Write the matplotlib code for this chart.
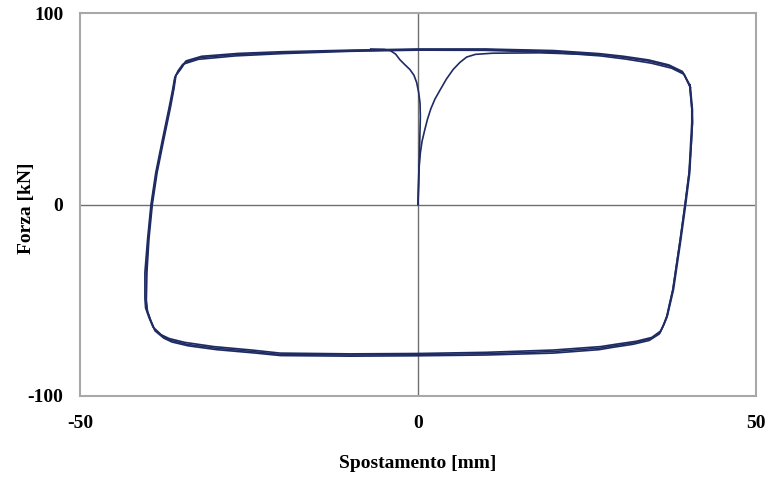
import matplotlib.pyplot as plt

# initial loading branch (from origin to top line)
init_x = [0.0, 0.05, 0.1, 0.2, 0.35, 0.6, 1.0, 1.4, 1.9, 2.5, 3.3, 4.2, 5.2, 6.2, 7.2, 8.5, 11.0, 18.0, 26.0]
init_y = [0.0, 8.0, 15.0, 21.0, 27.0, 33.0, 39.0, 44.5, 50.0, 55.0, 60.0, 65.5, 70.5, 74.2, 77.0, 78.4, 79.0, 79.2, 78.3]

# branch from top line back down to origin
back_x = [-7.0, -5.0, -4.1, -3.3, -2.7, -2.0, -1.2, -0.6, -0.2, 0.1, 0.3, 0.35, 0.3, 0.2, 0.1, 0.0]
back_y = [81.2, 81.0, 80.4, 78.5, 75.7, 73.2, 70.5, 67.5, 63.7, 58.5, 53.0, 46.0, 39.0, 25.0, 10.0, 0.0]

# cycle 1
c1_x = [40.2, 40.5, 40.5, 40.3, 40.1, 39.5, 38.8, 38.3, 37.7, 37.2, 36.8, 36.3, 35.8, 34.3, 32.0,
        29.0, 26.9, 20.0, 10.0, 0.0, -10.0, -20.4, -24.4, -30.0, -34.2, -36.5, -37.7, -39.0,
        -39.6, -40.1, -40.2, -40.2, -39.9, -39.4, -38.7, -37.7, -36.7, -36.2, -35.9, -35.2,
        -34.5, -32.2, -26.8, -20.0, -10.0, 0.0, 10.0, 20.0, 26.9, 30.5, 34.3, 37.3, 39.2, 40.2]
c1_y = [61.8, 50.0, 42.8, 30.0, 16.6, 0.0, -18.0, -30.0, -44.4, -52.0, -58.3, -63.0, -66.9, -70.2, -72.2,
        -73.8, -75.0, -76.8, -77.9, -78.4, -78.6, -78.3, -76.8, -75.0, -73.0, -71.0, -69.0, -65.0,
        -60.0, -55.0, -49.6, -35.5, -18.0, 0.0, 16.5, 34.0, 51.0, 60.0, 67.0, 70.5,
        74.2, 76.7, 78.3, 79.3, 80.3, 80.9, 80.9, 80.0, 78.3, 76.8, 74.8, 72.2, 68.8, 61.8]

# cycle 2
c2_x = [40.3, 40.6, 40.6, 40.4, 40.2, 39.6, 38.9, 38.4, 37.8, 37.3, 36.9, 36.4, 35.9, 34.6, 32.3,
        29.2, 27.0, 20.0, 10.0, 0.0, -10.0, -20.4, -24.6, -30.2, -34.5, -36.8, -38.0, -39.2,
        -39.8, -40.3, -40.4, -40.4, -40.0, -39.5, -38.8, -37.8, -36.8, -36.3, -36.0, -35.5,
        -34.8, -32.5, -27.0, -20.0, -10.0, 0.0, 10.0, 20.0, 27.0, 30.8, 34.5, 37.5, 39.4, 40.3]
c2_y = [61.0, 49.5, 42.5, 30.0, 16.6, 0.0, -18.0, -30.0, -44.4, -52.0, -58.0, -62.5, -66.0, -69.4, -71.4,
        -73.0, -74.2, -76.0, -77.2, -77.8, -78.0, -77.6, -76.0, -74.2, -72.0, -70.0, -68.0, -64.0,
        -59.0, -54.0, -49.0, -35.5, -18.0, 0.0, 16.5, 34.0, 51.0, 60.0, 66.0, 69.8,
        73.2, 75.8, 77.6, 78.8, 80.0, 80.6, 80.5, 79.4, 77.6, 75.9, 73.8, 71.2, 67.9, 61.0]

# cycle 3
c3_x = [40.2, 40.5, 40.6, 40.4, 40.1, 39.5, 38.8, 38.3, 37.7, 37.2, 36.8, 36.2, 35.7, 34.2, 31.8,
        28.8, 26.8, 20.0, 10.0, 0.0, -10.0, -20.3, -24.3, -29.8, -34.0, -36.4, -37.6, -38.9,
        -39.5, -40.0, -40.2, -40.1, -39.8, -39.3, -38.6, -37.6, -36.6, -36.1, -35.8, -35.0,
        -34.3, -32.0, -26.6, -20.0, -10.0, 0.0, 10.0, 20.0, 26.8, 30.4, 34.1, 37.1, 39.1, 40.2]
c3_y = [62.5, 50.5, 43.0, 30.0, 16.6, 0.0, -18.0, -30.0, -44.4, -52.5, -59.0, -64.0, -67.6, -71.0, -73.0,
        -74.6, -75.8, -77.6, -78.6, -79.0, -79.2, -78.9, -77.5, -75.8, -73.8, -71.8, -69.8, -66.0,
        -61.0, -56.0, -50.5, -35.5, -18.0, 0.0, 16.5, 34.0, 51.0, 60.5, 67.5, 71.2,
        75.0, 77.4, 78.9, 79.8, 80.6, 81.2, 81.2, 80.4, 78.8, 77.4, 75.5, 72.9, 69.5, 62.5]

x_ticks = [-50, 0, 50]
y_ticks = [-100, 0, 100]

line_col = '#1f2b63'
font = {'family': 'Liberation Serif', 'weight': 'bold', 'size': 14}

fig = plt.figure(figsize=(7.73, 4.78), dpi=100)
ax = fig.add_axes([80/773, 1 - 396/478, 676/773, 383/478])

ax.axhline(0, color='#707070', lw=1.0, zorder=1)
ax.axvline(0, color='#707070', lw=1.0, zorder=1)

for xs, ys in [(c1_x, c1_y), (c2_x, c2_y), (c3_x, c3_y), (init_x, init_y), (back_x, back_y)]:
    ax.plot(xs, ys, color=line_col, lw=1.2, zorder=2, solid_joinstyle='round')

ax.set_xlim(-50, 50)
ax.set_ylim(-100, 100)
ax.set_xticks(x_ticks)
ax.set_yticks(y_ticks)
ax.set_xticklabels([str(v) for v in x_ticks], fontdict=font)
ax.set_yticklabels([str(v) for v in y_ticks], fontdict=font)
ax.tick_params(length=0)
ax.tick_params(axis='x', pad=14)
ax.tick_params(axis='y', pad=12)

for s in ax.spines.values():
    s.set_color('#a8a8a8')
    s.set_linewidth(1.5)

ax.set_xlabel('Spostamento [mm]', fontdict=font)
ax.set_ylabel('Forza [kN]', fontdict=font)
ax.xaxis.set_label_coords(0.5, -0.155)
ax.yaxis.set_label_coords(-0.067, 0.49)

fig.savefig('out.png', dpi=100)
